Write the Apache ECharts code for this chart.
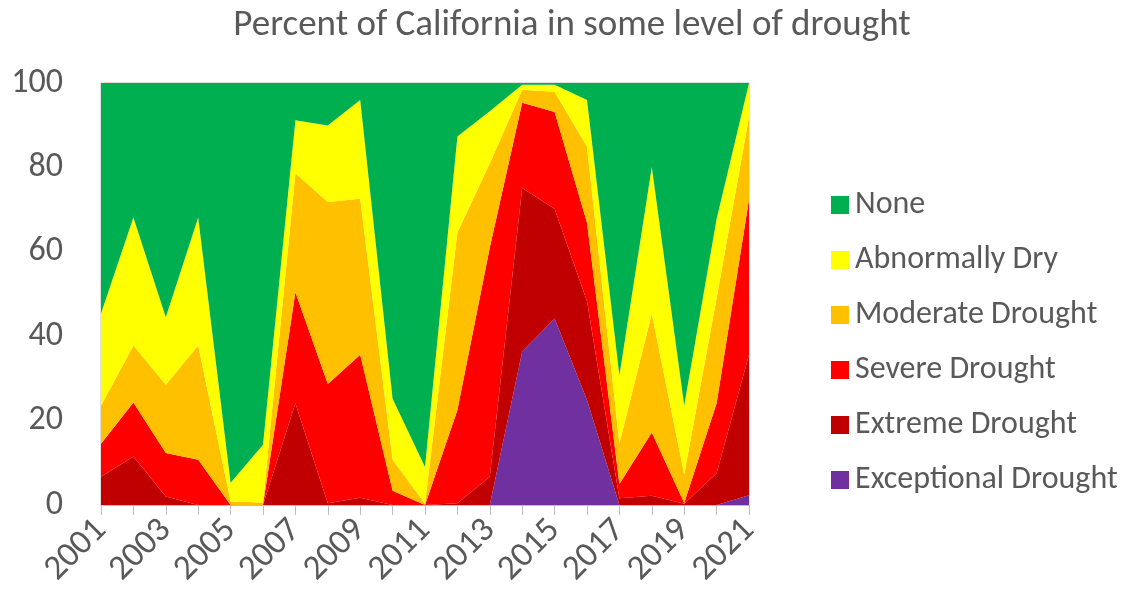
<!DOCTYPE html>
<html>
<head>
<meta charset="utf-8">
<script src="https://cdn.jsdelivr.net/npm/echarts@6/dist/echarts.min.js"></script>
<style>
html,body{margin:0;padding:0;background:#fff;}
#chart{width:1144px;height:609px;}
</style>
</head>
<body>
<div id="chart"></div>
<script>
const years = ['2001','2002','2003','2004','2005','2006','2007','2008','2009','2010','2011','2012','2013','2014','2015','2016','2017','2018','2019','2020','2021'];
const exceptional = [0,0,0,0,0,0,0,0,0,0,0,0,0,36.4,44.2,24.9,0,0,0,0,2.3];
const extreme = [6.7,11.5,2.0,0,0,0,24.1,0.4,1.7,0,0,0.4,6.7,38.7,26.0,23.4,1.6,2.2,0.3,7.5,33.3];
const severe = [7.8,12.8,10.3,10.7,0,0,26.3,28.3,33.9,3.4,0,22.1,54.3,20.2,22.9,18.6,3.4,15.0,0.2,16.6,36.8];
const moderate = [9.0,13.5,16.2,27.1,0.8,0.6,28.2,43.1,37.0,7.3,0.3,42.1,20.0,3.1,4.8,18.0,9.6,28.1,6.8,24.9,19.6];
const abnormallyDry = [21.9,30.3,16.0,30.3,4.5,13.7,12.6,18.1,23.4,14.5,8.7,22.7,12.3,1.2,1.7,11.1,16.1,34.8,16.3,18.8,8.0];
const none = [54.6,31.9,55.5,31.9,94.7,85.7,8.8,10.1,4.0,74.8,91.0,12.7,6.7,0.4,0.4,4.0,69.3,19.9,76.4,32.2,0];
const yTicks = [0,20,40,60,80,100];

const seriesDefs = [
  {name:'Exceptional Drought', data:exceptional, color:'#7030A0'},
  {name:'Extreme Drought', data:extreme, color:'#C00000'},
  {name:'Severe Drought', data:severe, color:'#FF0000'},
  {name:'Moderate Drought', data:moderate, color:'#FFC000'},
  {name:'Abnormally Dry', data:abnormallyDry, color:'#FFFF00'},
  {name:'None', data:none, color:'#00B050'}
];

const chart = echarts.init(document.getElementById('chart'), null, {renderer:'canvas'});
const font = 'Calibri, Carlito, "Open Sans", "Liberation Sans", sans-serif';
chart.setOption({
  backgroundColor:'#ffffff',
  animation:false,
  title:{
    text:'Percent of California in some level of drought',
    left:'center', top:2,
    textStyle:{color:'#595959', fontSize:37, fontWeight:'normal', fontFamily:font}
  },
  legend:{
    orient:'vertical', left:826, top:184,
    itemWidth:18, itemHeight:18, itemGap:23, icon:'rect',
    data:['None','Abnormally Dry','Moderate Drought','Severe Drought','Extreme Drought','Exceptional Drought'],
    textStyle:{color:'#595959', fontSize:32, fontFamily:font, padding:[0,0,0,1]}
  },
  grid:{left:101, right:395, top:83, bottom:104, show:true, borderColor:'#BFBFBF', borderWidth:1, backgroundColor:'transparent'},
  xAxis:{
    type:'category', data:years, boundaryGap:false,
    axisLine:{show:true, lineStyle:{color:'#BFBFBF', width:1}},
    axisTick:{show:true, interval:0, length:10, lineStyle:{color:'#BFBFBF', width:1}},
    axisLabel:{interval:1, rotate:45, color:'#595959', fontSize:35, fontFamily:font, margin:20},
    splitLine:{show:false}
  },
  yAxis:{
    type:'value', min:0, max:100, interval:20,
    axisLine:{show:false}, axisTick:{show:false}, splitLine:{show:false},
    axisLabel:{color:'#595959', fontSize:34, fontFamily:font, margin:38,
      formatter:function(v){return yTicks.indexOf(v)>=0?String(v):'';}}
  },
  series: seriesDefs.map(s=>({
    name:s.name, type:'line', stack:'total', data:s.data,
    symbol:'none', smooth:false,
    lineStyle:{width:0, color:s.color},
    itemStyle:{color:s.color},
    areaStyle:{color:s.color, opacity:1}
  }))
});
</script>
</body>
</html>
